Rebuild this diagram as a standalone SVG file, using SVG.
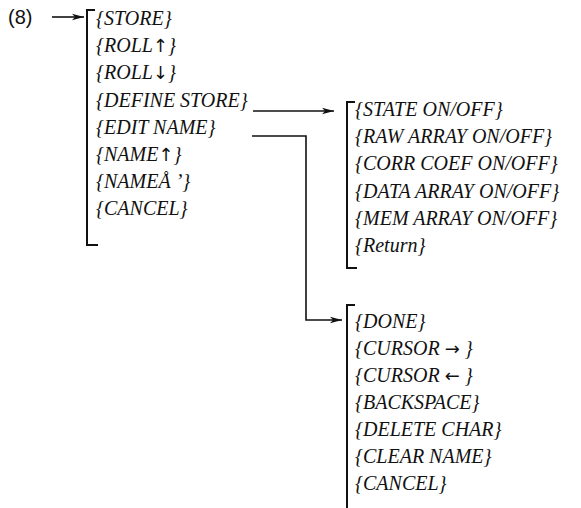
<svg xmlns="http://www.w3.org/2000/svg" width="581" height="508" viewBox="0 0 581 508">
<style>
.t{font-family:'Liberation Serif','Times New Roman',serif;font-style:italic;font-size:20px;fill:#111}
.a{font-family:'DejaVu Sans',sans-serif;font-style:normal;font-size:18px}
.s{font-family:'Liberation Sans',Arial,sans-serif;font-size:20px;fill:#111}
.br{fill:none;stroke:#111;stroke-width:2}
.ln{fill:none;stroke:#111;stroke-width:1.6}
</style>
<defs>
<marker id="ah" viewBox="0 0 12 8" refX="12" refY="4" markerWidth="12" markerHeight="8" markerUnits="userSpaceOnUse" orient="auto">
<path d="M0,0.8 L12,4 L0,7.2 L3,4 Z" fill="#111"/>
</marker>
</defs>
<rect width="581" height="508" fill="#fff"/>
<g id="start">
<text class="s" x="8" y="24">(8)</text>
</g>
<g id="menu-main">
<path class="br" d="M95,10 H87 V245 H98"/>
<text class="t" x="96" y="24.5">{STORE}</text>
<text class="t" x="96" y="51.5">{ROLL<tspan class="a">↑</tspan>}</text>
<text class="t" x="96" y="78.5">{ROLL<tspan class="a">↓</tspan>}</text>
<text class="t" x="96" y="106.5">{DEFINE STORE}</text>
<text class="t" x="96" y="133.5">{EDIT NAME}</text>
<text class="t" x="96" y="160.5">{NAME<tspan class="a">↑</tspan>}</text>
<text class="t" x="96" y="187.5">{NAMEÅ ’}</text>
<text class="t" x="96" y="214.5">{CANCEL}</text>
</g>
<g id="menu-define">
<path class="br" d="M355,102 H347 V268 H357"/>
<text class="t" x="355" y="115.5">{STATE ON/OFF}</text>
<text class="t" x="355" y="142.5">{RAW ARRAY ON/OFF}</text>
<text class="t" x="355" y="169.5">{CORR COEF ON/OFF}</text>
<text class="t" x="355" y="197.5">{DATA ARRAY ON/OFF}</text>
<text class="t" x="355" y="224.5">{MEM ARRAY ON/OFF}</text>
<text class="t" x="355" y="251.5">{Return}</text>
</g>
<g id="menu-edit">
<path class="br" d="M355,305 H347 V508"/>
<text class="t" x="355" y="327.5">{DONE}</text>
<text class="t" x="355" y="354.5">{CURSOR <tspan class="a">→</tspan> }</text>
<text class="t" x="355" y="381.5">{CURSOR <tspan class="a">←</tspan> }</text>
<text class="t" x="355" y="408.5">{BACKSPACE}</text>
<text class="t" x="355" y="435.5">{DELETE CHAR}</text>
<text class="t" x="355" y="462.5">{CLEAR NAME}</text>
<text class="t" x="355" y="489.5">{CANCEL}</text>
</g>
<g id="connectors">
<path class="ln" d="M52,17 H84" marker-end="url(#ah)"/>
<path class="ln" d="M253,111 H334" marker-end="url(#ah)"/>
<path class="ln" d="M252,136 H306 V320 H342" marker-end="url(#ah)"/>
</g>
</svg>
